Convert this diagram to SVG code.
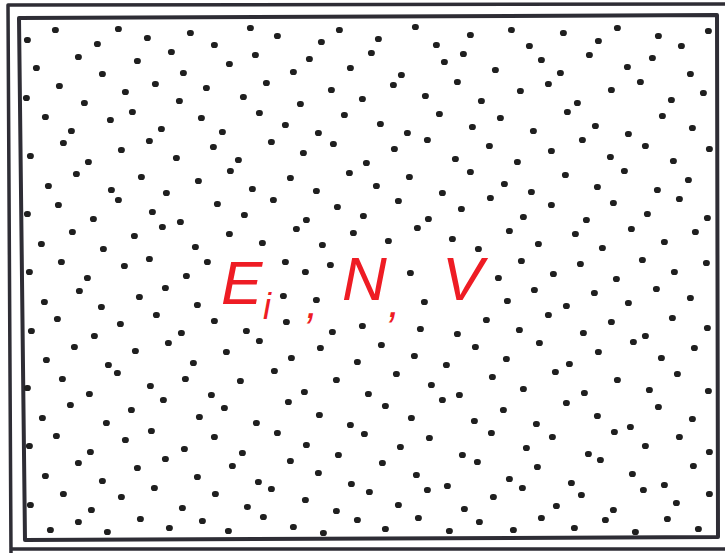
<svg xmlns="http://www.w3.org/2000/svg" width="725" height="553" viewBox="0 0 725 553">
<style>
.frame{fill:none;stroke:#2e2d35;stroke-linejoin:round;stroke-linecap:round}
.dots{fill:none;stroke:#1f1f1f;stroke-linecap:round;stroke-width:6.2}
.lbl{font-family:"Liberation Sans",Arial,sans-serif;fill:#ee1c24;font-style:italic}
</style>
<rect width="725" height="553" fill="#ffffff"/>
<g id="frame">
<path class="frame" stroke-width="3.5" d="M725 4 L8 5 L11 553 M11 549 L725 549"/>
<path class="frame" stroke-width="4" d="M19 18 L717 15 L718 537 L25 540 Z"/>
</g>
<g id="particles">
<path class="dots" d="
M27 40h.8M55 30h.8M97 44h.8M118 29h.8M147 38h.8M190 33h.8M214 45h.8M250 28h.8M277 36h.8M321 42h.8M339 30h.8M378 39h.8M415 27h.8M436 45h.8M470 35h.8M511 30h.8M529 46h.8M563 33h.8M598 41h.8M617 28h.8M658 36h.8M681 46h.8M708 31h.8
M36 68h.8M78 57h.8M102 74h.8M137 61h.8M171 52h.8M183 73h.8M229 64h.8M255 55h.8M293 72h.8M309 59h.8M350 68h.8M371 53h.8M401 75h.8M444 62h.8M463 54h.8M495 70h.8M541 60h.8M560 73h.8M589 55h.8M627 67h.8M652 58h.8M690 74h.8
M26 98h.8M59 86h.8M84 103h.8M125 92h.8M155 84h.8M179 101h.8M206 88h.8M243 97h.8M266 83h.8M300 104h.8M331 90h.8M362 99h.8M393 85h.8M425 96h.8M457 82h.8M481 101h.8M520 91h.8M548 84h.8M577 103h.8M611 90h.8M640 82h.8M671 100h.8M703 93h.8
M45 117h.8M71 131h.8M110 120h.8M132 112h.8M161 129h.8M201 118h.8M222 132h.8M259 113h.8M285 125h.8M318 133h.8M344 115h.8M380 124h.8M407 133h.8M439 114h.8M472 127h.8M500 118h.8M533 131h.8M567 112h.8M595 126h.8M628 134h.8M662 116h.8M692 128h.8
M30 156h.8M63 143h.8M88 162h.8M121 150h.8M149 141h.8M176 158h.8M213 147h.8M238 160h.8M271 142h.8M303 153h.8M333 144h.8M366 163h.8M394 149h.8M427 140h.8M455 159h.8M489 146h.8M517 162h.8M551 151h.8M582 140h.8M610 157h.8M645 146h.8M673 161h.8M709 149h.8
M48 186h.8M76 174h.8M111 190h.8M141 177h.8M166 193h.8M198 181h.8M230 171h.8M252 189h.8M290 178h.8M316 191h.8M349 173h.8M376 186h.8M409 177h.8M442 193h.8M470 172h.8M504 184h.8M531 192h.8M565 175h.8M597 187h.8M624 171h.8M657 190h.8M688 180h.8
M27 214h.8M58 205h.8M93 219h.8M118 200h.8M152 212h.8M180 222h.8M217 204h.8M244 215h.8M273 200h.8M306 220h.8M337 207h.8M363 216h.8M398 201h.8M428 219h.8M461 209h.8M490 198h.8M523 217h.8M551 205h.8M586 220h.8M613 203h.8M647 214h.8M679 199h.8M707 218h.8
M41 244h.8M72 232h.8M103 249h.8M134 236h.8M162 227h.8M195 247h.8M229 234h.8M262 243h.8M296 229h.8M322 245h.8M353 233h.8M388 241h.8M417 228h.8M452 239h.8M478 249h.8M509 231h.8M538 244h.8M575 234h.8M602 248h.8M631 229h.8M664 242h.8M695 232h.8
M29 272h.8M61 262h.8M87 278h.8M124 266h.8M149 259h.8M186 276h.8M207 262h.8M285 262h.8M305 272h.8M330 265h.8M410 273h.8M498 278h.8M521 261h.8M553 274h.8M580 264h.8M616 279h.8M642 260h.8M674 272h.8M706 263h.8
M44 302h.8M79 291h.8M101 307h.8M139 297h.8M165 288h.8M197 305h.8M283 296h.8M316 300h.8M424 302h.8M507 301h.8M534 290h.8M566 306h.8M594 293h.8M628 303h.8M656 289h.8M690 298h.8
M31 331h.8M57 319h.8M94 336h.8M120 324h.8M156 315h.8M181 333h.8M214 321h.8M246 331h.8M286 322h.8M332 332h.8M362 326h.8M420 329h.8M457 334h.8M486 320h.8M519 330h.8M548 315h.8M583 333h.8M611 322h.8M645 336h.8M672 318h.8M707 328h.8
M46 360h.8M74 347h.8M108 365h.8M135 351h.8M168 343h.8M193 363h.8M226 352h.8M259 341h.8M291 358h.8M320 348h.8M357 362h.8M381 345h.8M414 356h.8M446 365h.8M475 347h.8M506 359h.8M539 343h.8M569 364h.8M598 352h.8M633 342h.8M661 358h.8M694 348h.8
M27 388h.8M62 379h.8M89 394h.8M117 373h.8M150 386h.8M185 379h.8M211 395h.8M240 381h.8M274 371h.8M304 392h.8M336 380h.8M368 394h.8M396 374h.8M431 385h.8M459 395h.8M492 377h.8M523 389h.8M555 372h.8M584 393h.8M617 380h.8M649 390h.8M677 374h.8M708 391h.8
M42 418h.8M70 405h.8M106 423h.8M131 410h.8M163 400h.8M199 417h.8M224 408h.8M256 423h.8M288 402h.8M319 415h.8M350 425h.8M385 406h.8M411 418h.8M442 400h.8M474 421h.8M503 410h.8M536 424h.8M566 403h.8M597 416h.8M630 427h.8M658 407h.8M692 419h.8
M29 446h.8M56 436h.8M90 452h.8M125 440h.8M151 431h.8M184 449h.8M214 437h.8M242 453h.8M277 433h.8M306 445h.8M338 455h.8M364 434h.8M400 447h.8M429 438h.8M462 455h.8M491 433h.8M526 448h.8M552 437h.8M588 454h.8M614 432h.8M645 446h.8M679 437h.8M709 452h.8
M45 476h.8M78 463h.8M102 481h.8M137 468h.8M165 459h.8M197 477h.8M232 466h.8M258 482h.8M290 461h.8M318 473h.8M351 484h.8M382 463h.8M416 475h.8M447 486h.8M477 462h.8M509 479h.8M537 467h.8M571 483h.8M600 460h.8M632 474h.8M664 485h.8M693 466h.8
M30 505h.8M63 494h.8M91 510h.8M121 497h.8M154 488h.8M182 508h.8M215 494h.8M247 507h.8M271 489h.8M305 500h.8M336 511h.8M369 492h.8M398 505h.8M427 490h.8M464 509h.8M493 497h.8M522 488h.8M556 506h.8M581 495h.8M613 510h.8M643 490h.8M676 503h.8M709 494h.8
M50 530h.8M78 522h.8M107 532h.8M140 519h.8M169 528h.8M202 521h.8M228 531h.8M263 517h.8M293 527h.8M323 533h.8M357 520h.8M385 529h.8M418 518h.8M449 531h.8M479 522h.8M513 530h.8M541 518h.8M574 528h.8M605 520h.8M635 532h.8M667 519h.8M698 529h.8"/>
</g>
<g id="label">
<text class="lbl" x="221" y="304" font-size="62">E</text>
<text class="lbl" x="263" y="319" font-size="36">i</text>
<text class="lbl" x="306" y="318" font-size="44">,</text>
<text class="lbl" x="342" y="300" font-size="62">N</text>
<text class="lbl" x="388" y="317" font-size="44">,</text>
<text class="lbl" x="442" y="300" font-size="62">V</text>
</g>
</svg>
